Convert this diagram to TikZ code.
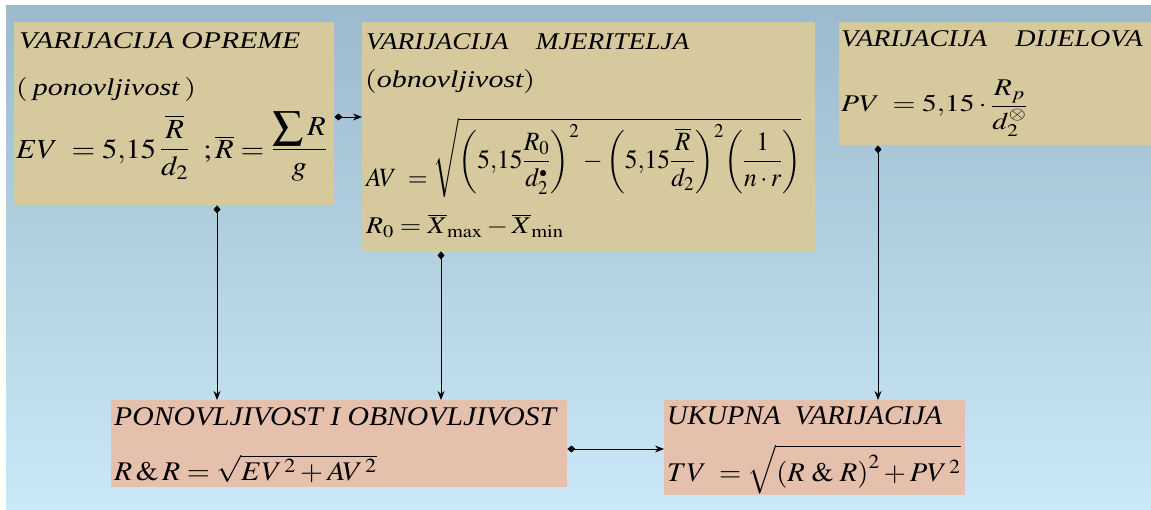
\documentclass[tikz,border=0pt]{standalone}
\usepackage{amsmath}
\usepackage{mathptmx}
\usepackage[no-math]{fontspec}
\setmainfont{Liberation Serif}
\usetikzlibrary{arrows.meta}
\definecolor{tanfill}{RGB}{214,201,158}
\definecolor{pinkfill}{RGB}{229,192,172}
\definecolor{bgtop}{RGB}{157,186,204}
\definecolor{bgbot}{RGB}{203,232,249}
\tikzset{
  tanbox/.style={fill=tanfill, draw=none, inner sep=0pt, anchor=north west},
  pinkbox/.style={fill=pinkfill, draw=none, inner sep=0pt, anchor=north west},
  txt/.style={inner sep=0pt, anchor=base west, font=\fontsize{24}{31}\selectfont\itshape},
  bigtxt/.style={inner sep=0pt, anchor=base west, font=\fontsize{27}{31}\selectfont\itshape},
  link/.style={line width=0.9pt, {Diamond[length=8pt,width=7pt]}-{Stealth[length=9pt,width=7pt]}}
}
\begin{document}
\begin{tikzpicture}[x=1pt,y=-1pt]
\useasboundingbox (0,0) rectangle (1151,510);
\shade[top color=bgtop, bottom color=bgbot] (6,6) rectangle (1151,510);
% boxes
\node[tanbox, minimum width=320pt, minimum height=183pt] (b1) at (14,22) {};
\node[tanbox, minimum width=453pt, minimum height=229pt] (b2) at (362,22) {};
\node[tanbox, minimum width=312pt, minimum height=123pt] (b3) at (839,22) {};
\node[pinkbox, minimum width=456pt, minimum height=87pt] (b4) at (111,400) {};
\node[pinkbox, minimum width=301pt, minimum height=95pt] (b5) at (664,400) {};
% box 1 texts
\node[txt] (t1a) at (19,49) {\scalebox{1.24}[1]{VARIJACIJA OPREME}};
\node[txt] (t1b) at (16,96) {\scalebox{1.25}[1]{$($\,ponovljivost\,$)$}};
\node[txt] (t1c) at (16,159) {\scalebox{1.27}[1.15]{$EV\;=5{,}15\,\raisebox{2pt}{$\dfrac{\overline{R}}{d_2}$}\;\;;\overline{R}=\raisebox{2pt}{$\dfrac{\displaystyle\sum R}{g}$}$}};
% box 2 texts
\node[txt] (t2a) at (366,50) {\scalebox{1.14}[1]{VARIJACIJA\quad MJERITELJA}};
\node[txt] (t2b) at (365,88) {\scalebox{1.25}[1]{$($obnovljivost$)$}};
\node[txt] (t2c) at (366,187) {\scalebox{1.06}[1.1]{$AV\;=\raisebox{17pt}{$\sqrt{\biggl(5{,}15\dfrac{R_0}{d_2^{\scriptscriptstyle\bullet}}\biggr)^{2}-\biggl(5{,}15\dfrac{\overline{R}}{d_2}\biggr)^{2}\biggl(\dfrac{1}{n\cdot r}\biggr)}$}$}};
\node[txt] (t2d) at (366,234) {\scalebox{1.15}[1]{$R_0=\overline{X}_{\mathrm{max}}-\overline{X}_{\mathrm{min}}$}};
% box 3 texts
\node[txt] (t3a) at (841,47) {\scalebox{1.17}[1]{VARIJACIJA\quad DIJELOVA}};
\node[txt] (t3b) at (841,112) {\scalebox{1.23}[1]{$PV\;=5{,}15\cdot\dfrac{R_p}{d_2^{\otimes}}$}};
% box 4 texts
\node[bigtxt] (t4a) at (114,425) {\scalebox{1.10}[1]{PONOVLJIVOST I OBNOVLJIVOST}};
\node[bigtxt] (t4b) at (114,480) {\scalebox{1.10}[1]{$R\,\&\,R=\sqrt{EV^{\,2}+AV^{\,2}}$}};
% box 5 texts
\node[bigtxt] (t5a) at (667,424) {\scalebox{1.05}[1]{UKUPNA\ \ VARIJACIJA}};
\node[bigtxt] (t5b) at (667,481) {\scalebox{1.06}[1]{$TV\;=\sqrt{\left(R\;\&\;R\right)^2+PV^{\,2}}$}};
% connector x/y references
\coordinate (y1) at (0,117);
\coordinate (y2) at (0,449);
\coordinate (x1) at (217,0);
\coordinate (x2) at (441,0);
\coordinate (x3) at (878,0);
\draw[link] (b1.east |- y1) -- (b2.west |- y1);
\draw[link] (b1.south -| x1) -- (b4.north -| x1);
\draw[link] (b2.south -| x2) -- (b4.north -| x2);
\draw[link] (b3.south -| x3) -- (b5.north -| x3);
\draw[link] (b4.east |- y2) -- (b5.west |- y2);
\end{tikzpicture}
\end{document}
